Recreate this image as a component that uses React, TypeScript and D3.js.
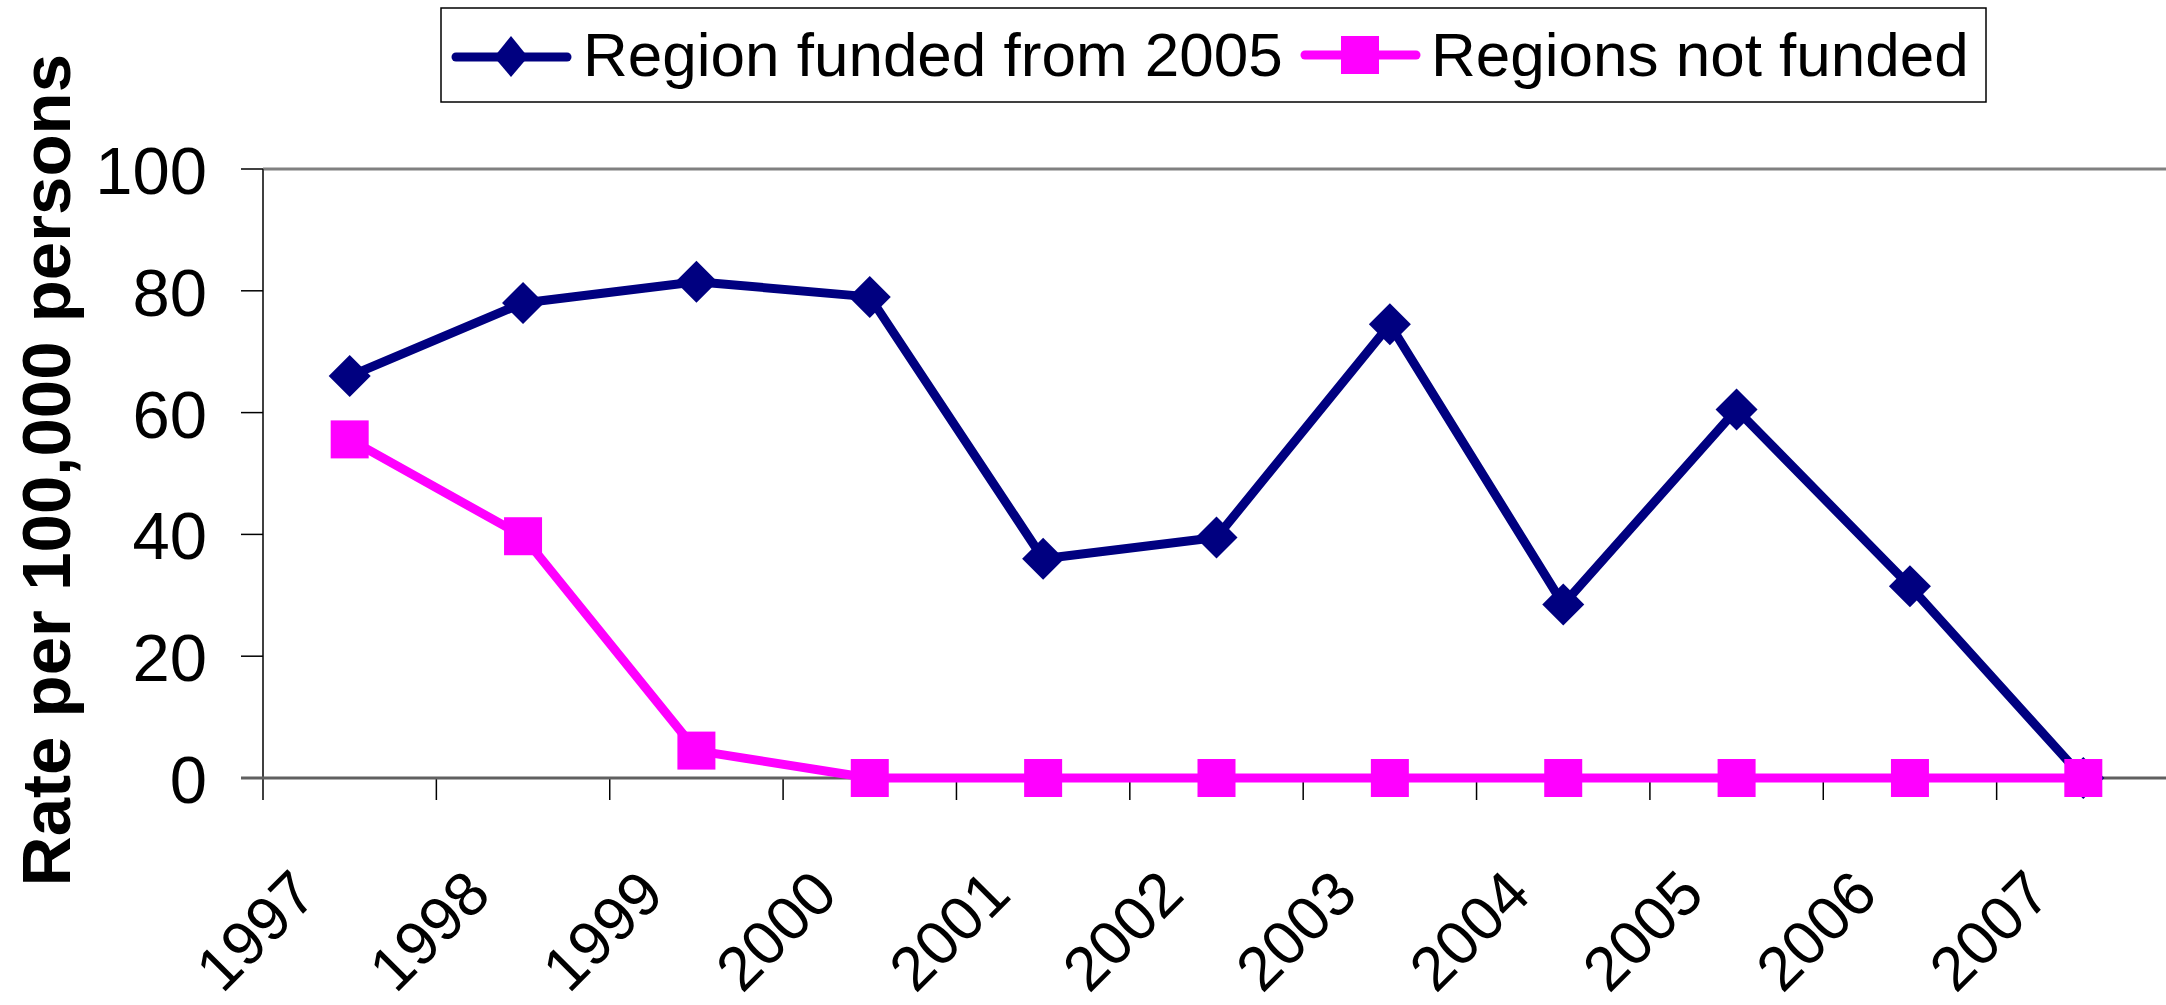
import React, { useEffect, useRef } from 'react';
import * as d3 from 'd3';

const years = ['1997', '1998', '1999', '2000', '2001', '2002', '2003', '2004', '2005', '2006', '2007'];
const fundedValues = [66, 78, 81.5, 79, 36, 39.5, 74.5, 28.5, 60.5, 31.5, 0];
const notFundedValues = [55.6, 39.7, 4.5, 0, 0, 0, 0, 0, 0, 0, 0];
const yTicks = [0, 20, 40, 60, 80, 100];

const NAVY = '#000080';
const MAGENTA = '#FF00FF';
const FONT = '"Liberation Sans", Arial, sans-serif';

const App = () => {
  const ref = useRef<SVGSVGElement>(null);

  useEffect(() => {
    const svg = d3.select(ref.current);
    svg.selectAll('*').remove();

    const left = 263;
    const right = 2170;
    const top = 169;
    const bottom = 778;

    // SCALES
    const x = d3.scaleBand().domain(years).range([left, right]).padding(0);
    const y = d3.scaleLinear().domain([0, 100]).range([bottom, top]);
    const cx = (d: string) => (x(d) as number) + x.bandwidth() / 2;

    // PLOT FRAME
    svg.append('line')
      .attr('x1', left).attr('x2', 2166)
      .attr('y1', top).attr('y2', top)
      .attr('stroke', '#808080').attr('stroke-width', 3);

    svg.append('line')
      .attr('x1', left).attr('x2', left)
      .attr('y1', top).attr('y2', bottom)
      .attr('stroke', '#404040').attr('stroke-width', 2);

    // Y AXIS
    svg.selectAll('.ytick')
      .data(yTicks)
      .enter()
      .append('line')
      .attr('x1', left - 22).attr('x2', left)
      .attr('y1', d => y(d)).attr('y2', d => y(d))
      .attr('stroke', '#000').attr('stroke-width', 1.5);

    svg.selectAll('.ylabel')
      .data(yTicks)
      .enter()
      .append('text')
      .attr('x', 207)
      .attr('y', d => y(d) + 25)
      .attr('text-anchor', 'end')
      .attr('font-family', FONT)
      .attr('font-size', 67)
      .text(d => d);

    svg.append('text')
      .attr('transform', 'translate(70, 470) rotate(-90)')
      .attr('text-anchor', 'middle')
      .attr('font-family', FONT)
      .attr('font-weight', 'bold')
      .attr('font-size', 69)
      .text('Rate per 100,000 persons');

    // X AXIS
    const bounds = years.map(d => x(d) as number).concat([right]);
    svg.selectAll('.xtick')
      .data(bounds)
      .enter()
      .append('line')
      .attr('x1', d => d).attr('x2', d => d)
      .attr('y1', bottom).attr('y2', bottom + 22)
      .attr('stroke', '#000').attr('stroke-width', 1.5);

    svg.append('line')
      .attr('x1', left - 22).attr('x2', 2166)
      .attr('y1', bottom).attr('y2', bottom)
      .attr('stroke', '#606060').attr('stroke-width', 3);

    svg.selectAll('.xlabel')
      .data(years)
      .enter()
      .append('text')
      .attr('transform', d => `translate(${cx(d) - 30}, 897) rotate(-45)`)
      .attr('text-anchor', 'end')
      .attr('font-family', FONT)
      .attr('font-size', 62)
      .text(d => d);

    // LINES
    const line = d3.line<number>()
      .x((d, i) => cx(years[i]))
      .y(d => y(d));

    svg.append('path')
      .attr('d', line(fundedValues))
      .attr('fill', 'none')
      .attr('stroke', NAVY)
      .attr('stroke-width', 9)
      .attr('stroke-linejoin', 'round');

    svg.selectAll('.diamond')
      .data(fundedValues)
      .enter()
      .append('path')
      .attr('d', (d, i) => {
        const px = cx(years[i]);
        const py = y(d);
        return `M${px},${py - 21}L${px + 21},${py}L${px},${py + 21}L${px - 21},${py}Z`;
      })
      .attr('fill', NAVY);

    svg.append('path')
      .attr('d', line(notFundedValues))
      .attr('fill', 'none')
      .attr('stroke', MAGENTA)
      .attr('stroke-width', 9)
      .attr('stroke-linejoin', 'round');

    svg.selectAll('.square')
      .data(notFundedValues)
      .enter()
      .append('rect')
      .attr('x', (d, i) => cx(years[i]) - 19)
      .attr('y', d => y(d) - 19)
      .attr('width', 38)
      .attr('height', 38)
      .attr('fill', MAGENTA);

    // LEGEND
    const legend = svg.append('g');
    legend.append('rect')
      .attr('x', 441).attr('y', 8)
      .attr('width', 1545).attr('height', 94)
      .attr('fill', '#fff')
      .attr('stroke', '#000').attr('stroke-width', 1.5);

    legend.append('line')
      .attr('x1', 456).attr('x2', 567).attr('y1', 57).attr('y2', 57)
      .attr('stroke', NAVY).attr('stroke-width', 9).attr('stroke-linecap', 'round');
    legend.append('path')
      .attr('d', 'M511,36L528,57L511,77L494,57Z')
      .attr('fill', NAVY);
    legend.append('text')
      .attr('x', 583).attr('y', 76)
      .attr('font-family', FONT).attr('font-size', 62)
      .text('Region funded from 2005');

    legend.append('line')
      .attr('x1', 1305).attr('x2', 1416).attr('y1', 55).attr('y2', 55)
      .attr('stroke', MAGENTA).attr('stroke-width', 9).attr('stroke-linecap', 'round');
    legend.append('rect')
      .attr('x', 1341).attr('y', 36).attr('width', 38).attr('height', 38)
      .attr('fill', MAGENTA);
    legend.append('text')
      .attr('x', 1431).attr('y', 76)
      .attr('font-family', FONT).attr('font-size', 62)
      .text('Regions not funded');
  });

  return (
    <svg
      ref={ref}
      width={2166}
      height={1005}
      style={{ position: 'absolute', left: 0, top: 0, background: '#fff' }}
    />
  );
};

export default App;
